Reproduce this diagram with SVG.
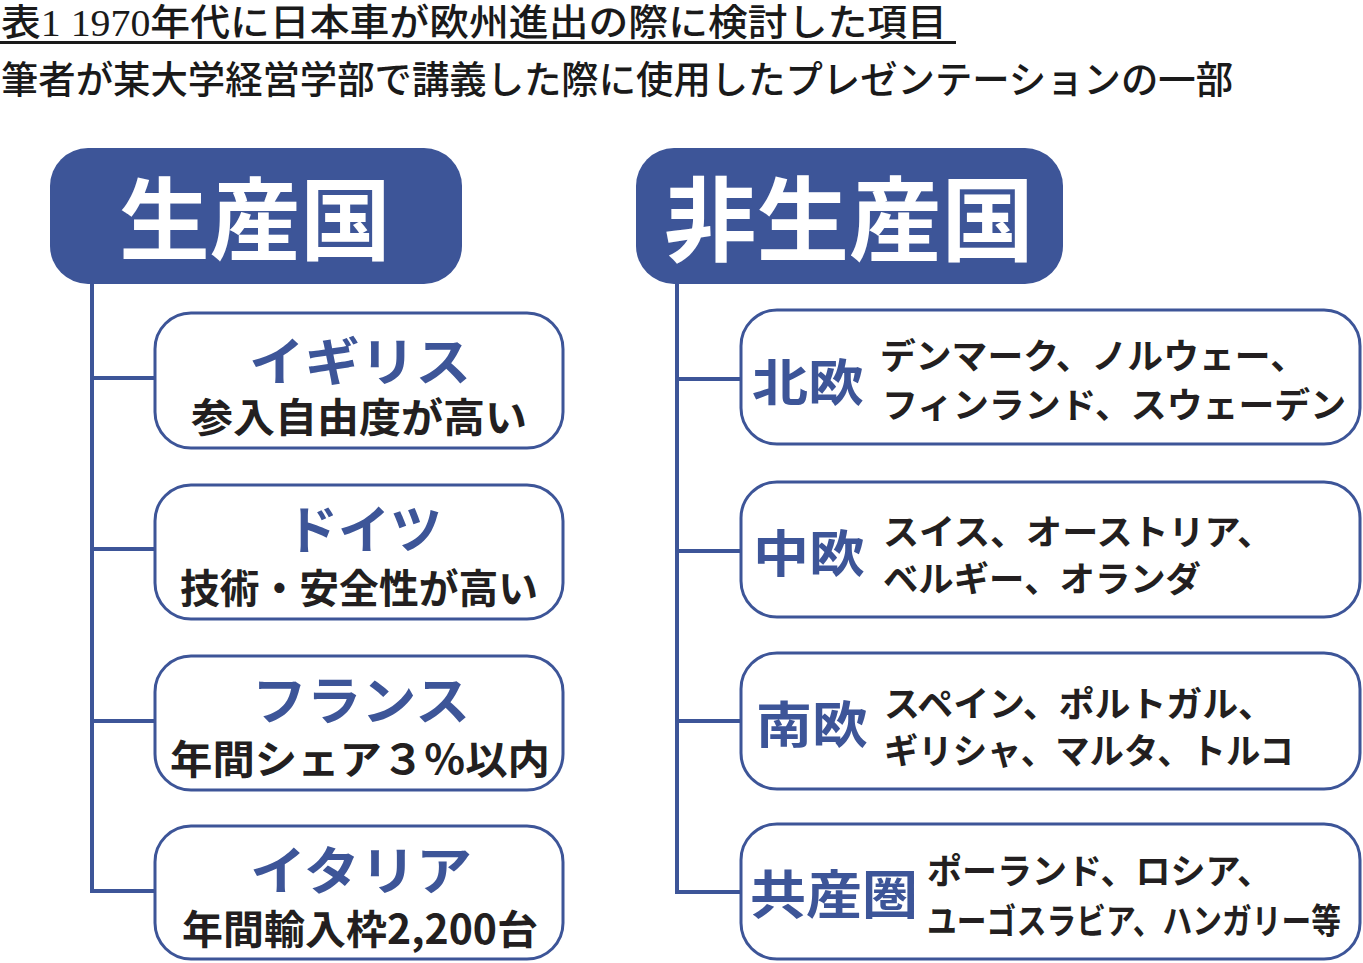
<svg xmlns="http://www.w3.org/2000/svg" width="1363" height="963" viewBox="0 0 1363 963">
<style>
.hdr{fill:#3D5598}
.box{fill:#fff;stroke:#3D5598;stroke-width:3}
.ln{stroke:#3D5598;stroke-width:4;fill:none;stroke-linecap:square}
.cap{font-family:"Liberation Serif","Noto Sans CJK JP",serif;font-weight:500;fill:#1a1a1a}
.ht{font-family:"Noto Sans CJK JP",sans-serif;font-weight:700;fill:#fff;text-anchor:middle}
.bt{font-family:"Noto Sans CJK JP",sans-serif;font-weight:700;fill:#3D5598}
.st{font-family:"Noto Sans CJK JP",sans-serif;font-weight:700;fill:#231F20}
</style>
<rect width="1363" height="963" fill="#fff"/>
<g id="title">
<text class="cap" x="1" y="36" font-size="37" textLength="946" lengthAdjust="spacingAndGlyphs">表1 1970年代に日本車が欧州進出の際に検討した項目</text>
<rect x="0" y="41" width="956" height="3" fill="#1a1a1a"/>
<text class="cap" x="1" y="93" font-size="38" textLength="1232" lengthAdjust="spacingAndGlyphs">筆者が某大学経営学部で講義した際に使用したプレゼンテーションの一部</text>
</g>
<g id="connectors">
<path class="ln" d="M92 284 V891 M92 378 H155 M92 549 H155 M92 721 H155 M92 891 H155"/>
<path class="ln" d="M677 284 V892 M677 379 H741 M677 551 H741 M677 721 H741 M677 892 H741"/>
</g>
<g id="hdr-left">
<rect class="hdr" x="50" y="148" width="412" height="136" rx="38"/>
<text class="ht" x="255" y="253" font-size="90" textLength="272" lengthAdjust="spacingAndGlyphs">生産国</text>
</g>
<g id="hdr-right">
<rect class="hdr" x="636" y="148" width="427" height="136" rx="38"/>
<text class="ht" x="849" y="254" font-size="92" textLength="370" lengthAdjust="spacingAndGlyphs">非生産国</text>
</g>
<g id="uk">
<rect class="box" x="155" y="313" width="408" height="135" rx="36"/>
<text class="bt" x="360" y="381" font-size="52" text-anchor="middle" textLength="222" lengthAdjust="spacingAndGlyphs">イギリス</text>
<text class="st" x="359" y="432" font-size="40" text-anchor="middle" textLength="336" lengthAdjust="spacingAndGlyphs">参入自由度が高い</text>
</g>
<g id="de">
<rect class="box" x="155" y="485" width="408" height="134" rx="36"/>
<text class="bt" x="364" y="549" font-size="52" text-anchor="middle" textLength="156" lengthAdjust="spacingAndGlyphs">ドイツ</text>
<text class="st" x="359" y="603" font-size="40" text-anchor="middle" textLength="358" lengthAdjust="spacingAndGlyphs">技術・安全性が高い</text>
</g>
<g id="fr">
<rect class="box" x="155" y="656" width="408" height="134" rx="36"/>
<text class="bt" x="361" y="720" font-size="52" text-anchor="middle" textLength="218" lengthAdjust="spacingAndGlyphs">フランス</text>
<text class="st" x="360" y="774" font-size="40" text-anchor="middle" textLength="380" lengthAdjust="spacingAndGlyphs">年間シェア３%以内</text>
</g>
<g id="it">
<rect class="box" x="155" y="826" width="408" height="133" rx="36"/>
<text class="bt" x="361" y="890" font-size="52" text-anchor="middle" textLength="222" lengthAdjust="spacingAndGlyphs">イタリア</text>
<text class="st" x="360" y="944" font-size="40" text-anchor="middle" textLength="356" lengthAdjust="spacingAndGlyphs">年間輸入枠2,200台</text>
</g>
<g id="north">
<rect class="box" x="741" y="310" width="619" height="134" rx="36"/>
<text class="bt" x="752" y="401" font-size="50" textLength="112" lengthAdjust="spacingAndGlyphs">北欧</text>
<text class="st" x="880" y="369" font-size="35" textLength="426" lengthAdjust="spacingAndGlyphs">デンマーク、ノルウェー、</text>
<text class="st" x="882" y="418" font-size="35" textLength="464" lengthAdjust="spacingAndGlyphs">フィンランド、スウェーデン</text>
</g>
<g id="central">
<rect class="box" x="741" y="482" width="619" height="135" rx="36"/>
<text class="bt" x="753" y="572" font-size="50" textLength="112" lengthAdjust="spacingAndGlyphs">中欧</text>
<text class="st" x="883" y="545" font-size="35" textLength="390" lengthAdjust="spacingAndGlyphs">スイス、オーストリア、</text>
<text class="st" x="883" y="592" font-size="35" textLength="318" lengthAdjust="spacingAndGlyphs">ベルギー、オランダ</text>
</g>
<g id="south">
<rect class="box" x="741" y="653" width="619" height="136" rx="36"/>
<text class="bt" x="756" y="743" font-size="50" textLength="112" lengthAdjust="spacingAndGlyphs">南欧</text>
<text class="st" x="884" y="717" font-size="35" textLength="390" lengthAdjust="spacingAndGlyphs">スペイン、ポルトガル、</text>
<text class="st" x="884" y="764" font-size="35" textLength="410" lengthAdjust="spacingAndGlyphs">ギリシャ、マルタ、トルコ</text>
</g>
<g id="east">
<rect class="box" x="741" y="824" width="619" height="135" rx="36"/>
<text class="bt" x="750" y="914" font-size="52" textLength="168" lengthAdjust="spacingAndGlyphs">共産圏</text>
<text class="st" x="927" y="884" font-size="35" textLength="345" lengthAdjust="spacingAndGlyphs">ポーランド、ロシア、</text>
<text class="st" x="927" y="934" font-size="35" textLength="414" lengthAdjust="spacingAndGlyphs">ユーゴスラビア、ハンガリー等</text>
</g>
</svg>
